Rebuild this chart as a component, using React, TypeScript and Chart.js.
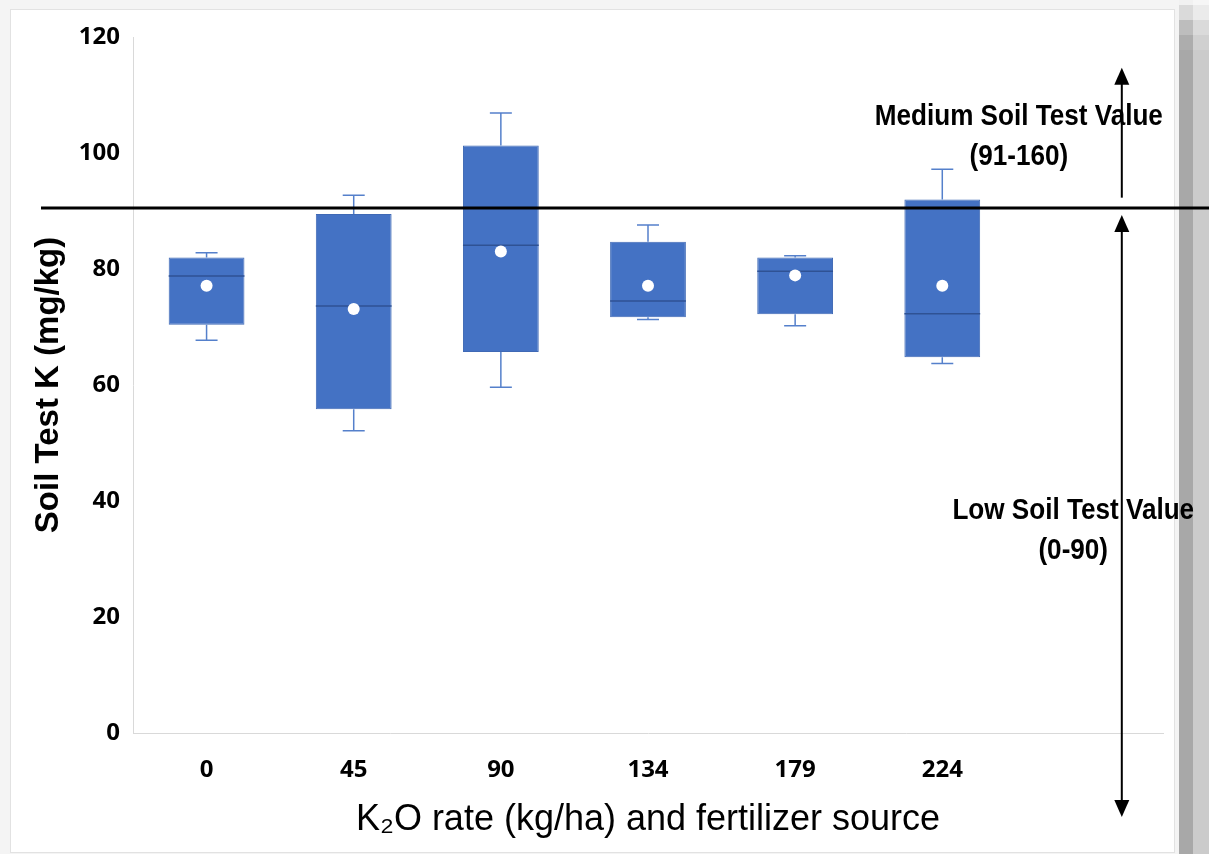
import { useEffect, useRef } from "react";
import { Chart, registerables, type Plugin } from "chart.js";

Chart.register(...registerables);

// K2O rates (kg/ha); the last slot is left empty for the range arrows
const rates = ["0", "45", "90", "134", "179", "224", ""];
const whiskerLow = [67.7, 52.1, 59.6, 71.3, 70.2, 63.7];
const quartile1 = [70.4, 55.8, 65.7, 71.7, 72.2, 64.8];
const medians = [78.8, 73.6, 84.1, 74.5, 79.6, 72.3];
const quartile3 = [82.0, 89.5, 101.3, 84.7, 82.0, 92.0];
const whiskerHigh = [82.8, 92.7, 106.9, 87.6, 82.3, 97.2];
const means = [77.1, 73.1, 83.0, 77.1, 78.9, 77.1];

const yMin = 0;
const yMax = 120;
const yStep = 20;

// soil test K classes
const lowMediumBoundary = 90.5;
const mediumArrow = [92.3, 114.7];
const lowArrow = [89.3, -14.5];
const arrowSlot = 6.22;
const mediumText = ["Medium Soil Test Value", "(91-160)"];
const mediumTextAt = [5.52, 106.2];
const lowText = ["Low Soil Test Value", "(0-90)"];
const lowTextAt = [5.89, 38.4];

const BLUE = "#4472C4";
const TICK_FONT = "'Open Sans', 'Noto Sans', sans-serif";

const drawArrow = (
  ctx: CanvasRenderingContext2D,
  x: number,
  from: number,
  to: number,
  bothEnds: boolean,
) => {
  const head = (tipY: number, dir: number) => {
    ctx.beginPath();
    ctx.moveTo(x, tipY);
    ctx.lineTo(x - 7.5, tipY - dir * 17);
    ctx.lineTo(x + 7.5, tipY - dir * 17);
    ctx.closePath();
    ctx.fill();
  };
  const dir = Math.sign(to - from);
  ctx.beginPath();
  ctx.moveTo(x, bothEnds ? from + dir * 10 : from);
  ctx.lineTo(x, to - dir * 10);
  ctx.stroke();
  head(to, dir);
  if (bothEnds) head(from, -dir);
};

const boxParts: Plugin<"bar"> = {
  id: "boxParts",
  afterDatasetDraw(chart, args) {
    if (args.index !== 0) return;
    const { ctx } = chart;
    const y = chart.scales.y;
    const meta = chart.getDatasetMeta(0);
    ctx.save();
    meta.data.forEach((bar, i) => {
      const { x, width } = bar.getProps(["x", "width"], true) as unknown as {
        x: number;
        width: number;
      };
      const cap = 11;
      const hi = y.getPixelForValue(whiskerHigh[i]);
      const lo = y.getPixelForValue(whiskerLow[i]);
      ctx.strokeStyle = "#5580cb";
      ctx.lineWidth = 1.5;
      ctx.beginPath();
      ctx.moveTo(x, y.getPixelForValue(quartile3[i]));
      ctx.lineTo(x, hi);
      ctx.moveTo(x - cap, hi);
      ctx.lineTo(x + cap, hi);
      ctx.moveTo(x, y.getPixelForValue(quartile1[i]));
      ctx.lineTo(x, lo);
      ctx.moveTo(x - cap, lo);
      ctx.lineTo(x + cap, lo);
      ctx.stroke();

      const ym = y.getPixelForValue(medians[i]);
      ctx.strokeStyle = "#2f5294";
      ctx.lineWidth = 1.5;
      ctx.beginPath();
      ctx.moveTo(x - width / 2, ym);
      ctx.lineTo(x + width / 2, ym);
      ctx.stroke();
    });
    ctx.restore();
  },
  afterDraw(chart) {
    const { ctx, chartArea } = chart;
    const x = chart.scales.x;
    const y = chart.scales.y;
    ctx.save();

    // condensed bold labels (Arial Narrow look)
    ctx.fillStyle = "#000";
    ctx.font = "bold 30px 'Liberation Sans', Arial, sans-serif";
    ctx.textAlign = "center";
    ctx.textBaseline = "middle";
    const writeLines = (lines: string[], at: number[]) => {
      const cx = x.getPixelForValue(at[0]);
      const cy = y.getPixelForValue(at[1]);
      lines.forEach((t, k) => {
        ctx.save();
        ctx.translate(cx, cy + k * 40);
        ctx.scale(0.87, 1);
        ctx.fillText(t, 0, 0);
        ctx.restore();
      });
    };
    writeLines(mediumText, mediumTextAt);
    writeLines(lowText, lowTextAt);

    const yb = y.getPixelForValue(lowMediumBoundary);
    ctx.strokeStyle = "#000";
    ctx.lineWidth = 3;
    ctx.beginPath();
    ctx.moveTo(chartArea.left - 92, yb);
    ctx.lineTo(chart.width, yb);
    ctx.stroke();

    const ax = x.getPixelForValue(arrowSlot);
    ctx.lineWidth = 2;
    drawArrow(ctx, ax, y.getPixelForValue(mediumArrow[0]), y.getPixelForValue(mediumArrow[1]), false);
    drawArrow(ctx, ax, y.getPixelForValue(lowArrow[0]), y.getPixelForValue(lowArrow[1]), true);
    ctx.restore();
  },
};

const SoilKChart = () => {
  const canvasRef = useRef<HTMLCanvasElement | null>(null);

  useEffect(() => {
    if (!canvasRef.current) return;
    const chart = new Chart(canvasRef.current, {
      type: "bar",
      data: {
        labels: rates,
        datasets: [
          {
            label: "Soil test K",
            data: quartile1.map((q, i) => [q, quartile3[i]]),
            backgroundColor: BLUE,
            borderColor: "#3f69b5",
            borderWidth: 1,
            borderSkipped: false,
            barPercentage: 0.515,
            categoryPercentage: 1,
            order: 1,
          },
          {
            type: "line",
            label: "Mean",
            data: means,
            showLine: false,
            pointRadius: 6,
            pointBackgroundColor: "#fff",
            pointBorderColor: "#fff",
            pointBorderWidth: 0,
            order: 0,
          } as any,
        ],
      },
      options: {
        animation: false,
        responsive: true,
        maintainAspectRatio: false,
        layout: { padding: { top: 37, right: 46, left: 0, bottom: 0 } },
        plugins: { legend: { display: false }, tooltip: { enabled: false } },
        scales: {
          x: {
            grid: { display: false, drawTicks: false },
            border: { display: true, color: "#d9d9d9", width: 1 },
            ticks: {
              color: "#000",
              padding: 23,
              font: { family: TICK_FONT, size: 24, weight: "bold" },
            },
            title: {
              display: true,
              text: "K₂O rate (kg/ha) and fertilizer source",
              color: "#000",
              padding: { top: 0, bottom: 12 },
              font: { family: "'Liberation Sans', Arial, sans-serif", size: 36 },
            },
            afterFit: (scale) => {
              scale.height = 121;
            },
          },
          y: {
            min: yMin,
            max: yMax,
            grid: { display: false, drawTicks: false },
            border: { display: true, color: "#d9d9d9", width: 1 },
            ticks: {
              stepSize: yStep,
              color: "#000",
              padding: 13,
              font: { family: TICK_FONT, size: 24, weight: "bold" },
            },
            title: {
              display: true,
              text: "Soil Test K (mg/kg)",
              color: "#000",
              padding: { top: 29, bottom: 0 },
              font: { family: "'Liberation Sans', Arial, sans-serif", size: 33, weight: "bold" },
            },
            afterFit: (scale) => {
              scale.width = 133;
            },
          },
        },
      },
      plugins: [boxParts],
    });
    return () => chart.destroy();
  }, []);

  return (
    <div style={{ position: "absolute", left: 0, top: 0, width: 1209, height: 854 }}>
      <canvas ref={canvasRef} />
    </div>
  );
};

const stripRows = [
  ["#f1f1f1", "#f6f6f6", 5],
  ["#dadada", "#ebebeb", 15],
  ["#bdbdbd", "#dadada", 15],
  ["#adadad", "#d0d0d0", 15],
];

export default function App() {
  return (
    <div
      style={{
        position: "absolute",
        left: 0,
        top: 0,
        width: 1209,
        height: 854,
        background: "#f4f4f4",
        overflow: "hidden",
      }}
    >
      <div
        style={{
          position: "absolute",
          left: 10,
          top: 9,
          width: 1163,
          height: 842,
          background: "#fff",
          border: "1px solid #e2e2e2",
        }}
      />
      <div
        style={{
          position: "absolute",
          left: 1179,
          top: 0,
          width: 30,
          height: 854,
          display: "flex",
          flexDirection: "column",
        }}
      >
        {stripRows.map(([a, b, h], k) => (
          <div key={k} style={{ display: "flex", height: h as number }}>
            <div style={{ width: 14, background: a as string }} />
            <div style={{ flex: 1, background: b as string }} />
          </div>
        ))}
        <div style={{ display: "flex", flex: 1 }}>
          <div style={{ width: 14, background: "#a8a8a8" }} />
          <div style={{ flex: 1, background: "#cbcbcb" }} />
        </div>
      </div>
      <SoilKChart />
    </div>
  );
}
